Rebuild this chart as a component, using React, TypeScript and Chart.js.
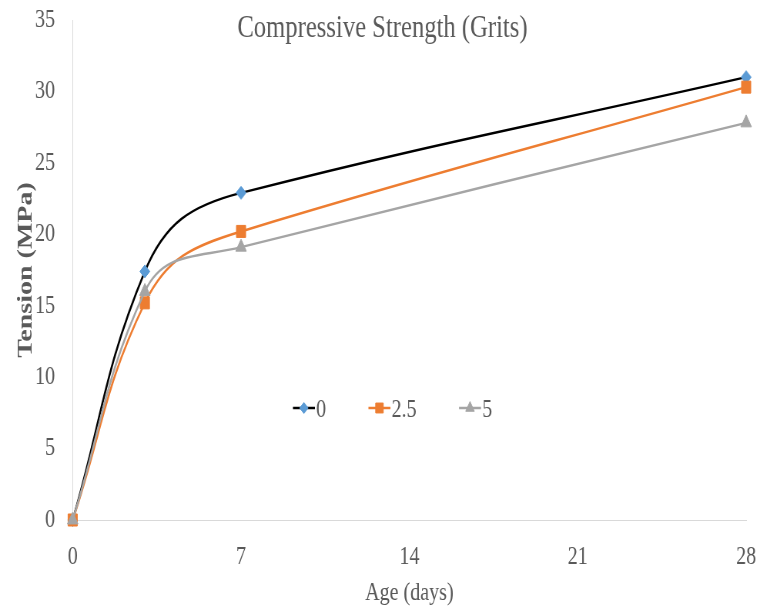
import React, { useEffect, useRef } from 'react';
import { Chart, registerables } from 'chart.js';
import { drawPoint } from 'chart.js/helpers';

Chart.register(...registerables);

// ---- data ----
const DAYS = [0, 3, 7, 28];
const SERIES_0 = [0, 17.4, 22.9, 31.0];
const SERIES_25 = [0, 15.2, 20.2, 30.3];
const SERIES_5 = [0, 16.0, 19.1, 27.8];
const SERIES_NAMES = ['0', '2.5', '5'];
const X_TICKS = [0, 7, 14, 21, 28];
const Y_TICKS = [0, 5, 10, 15, 20, 25, 30, 35];
const TITLE = 'Compressive Strength (Grits)';
const X_TITLE = 'Age (days)';
const Y_TITLE = 'Tension (MPa)';

// ---- styles ----
const FONT = '"Liberation Serif", "Times New Roman", serif';
const TEXT = '#595959';
const AXIS = '#d9d9d9';
const SX = 0.77; // horizontal squeeze of the reference picture
const W = 760;
const H = 609;
const CW = Math.round(W / SX);
const SMOOTH_K = 0.42;

const STYLES = [
  { line: '#000000', marker: '#5B9BD5', pointStyle: 'rectRot', radius: 6.5, legendRadius: 5.5 },
  { line: '#ED7D31', marker: '#ED7D31', pointStyle: 'rect', radius: 8.5, legendRadius: 7 },
  { line: '#A5A5A5', marker: '#A5A5A5', pointStyle: 'triangle', radius: 8, legendRadius: 6.5 },
];

// Spreadsheet-style smoothing: tangent weighted by neighbouring chord lengths,
// control arms proportional to the segment length (computed in displayed space)
const smoothPlugin = {
  id: 'sheetSmooth',
  beforeDatasetDraw(chart: any, args: any) {
    const meta = args.meta;
    const pts = meta.data;
    const n = pts.length;
    if (n < 2) return;
    const P = pts.map((p: any) => ({ x: p.x * SX, y: p.y }));
    const d: number[] = [];
    for (let i = 0; i < n - 1; i++) d.push(Math.hypot(P[i + 1].x - P[i].x, P[i + 1].y - P[i].y));
    for (let i = 0; i < n; i++) {
      let tx: number;
      let ty: number;
      if (i === 0) {
        tx = P[1].x - P[0].x;
        ty = P[1].y - P[0].y;
      } else if (i === n - 1) {
        tx = P[i].x - P[i - 1].x;
        ty = P[i].y - P[i - 1].y;
      } else {
        tx = d[i - 1] * (P[i].x - P[i - 1].x) + d[i] * (P[i + 1].x - P[i].x);
        ty = d[i - 1] * (P[i].y - P[i - 1].y) + d[i] * (P[i + 1].y - P[i].y);
      }
      const len = Math.hypot(tx, ty) || 1;
      tx /= len;
      ty /= len;
      const inArm = i > 0 ? SMOOTH_K * d[i - 1] : 0;
      const outArm = i < n - 1 ? SMOOTH_K * d[i] : 0;
      const p = pts[i];
      p.cp1x = (P[i].x - tx * inArm) / SX;
      p.cp1y = P[i].y - ty * inArm;
      p.cp2x = (P[i].x + tx * outArm) / SX;
      p.cp2y = P[i].y + ty * outArm;
    }
    if (meta.dataset) {
      meta.dataset._pointsUpdated = true;
      meta.dataset._path = undefined;
    }
  },
};

const overlayPlugin = {
  id: 'overlayText',
  afterDraw(chart: any) {
    const { ctx, chartArea } = chart;
    ctx.save();
    // title
    ctx.font = `32px ${FONT}`;
    ctx.fillStyle = TEXT;
    ctx.textAlign = 'center';
    ctx.textBaseline = 'alphabetic';
    ctx.fillText(TITLE, (chartArea.left + chartArea.right) / 2 - 35, 37);

    // legend
    ctx.font = `26px ${FONT}`;
    let x = chartArea.left + 286;
    const yMid = 408;
    const lineLen = 28.6;
    SERIES_NAMES.forEach((name, i) => {
      const st = STYLES[i];
      ctx.strokeStyle = st.line;
      ctx.lineWidth = 2.5;
      ctx.beginPath();
      ctx.moveTo(x, yMid);
      ctx.lineTo(x + lineLen, yMid);
      ctx.stroke();
      ctx.fillStyle = st.marker;
      ctx.strokeStyle = st.marker;
      ctx.lineWidth = 1;
      drawPoint(ctx, { pointStyle: st.pointStyle, radius: st.legendRadius, rotation: 0, borderWidth: 1 }, x + lineLen / 2, yMid);
      ctx.fillStyle = TEXT;
      ctx.textAlign = 'left';
      ctx.fillText(name, x + lineLen + 1.5, 416.5);
      x += lineLen + 1.5 + ctx.measureText(name).width + 55;
    });
    ctx.restore();
  },
};

export default function App() {
  const ref = useRef<HTMLCanvasElement | null>(null);

  useEffect(() => {
    if (!ref.current) return;
    const seriesValues = [SERIES_0, SERIES_25, SERIES_5];
    const datasets = seriesValues.map((vals, i) => ({
      label: SERIES_NAMES[i],
      data: DAYS.map((d, j) => ({ x: d, y: vals[j] })),
      borderColor: STYLES[i].line,
      borderWidth: 2.5,
      backgroundColor: STYLES[i].marker,
      pointBackgroundColor: STYLES[i].marker,
      pointBorderColor: STYLES[i].marker,
      pointBorderWidth: 1,
      pointStyle: STYLES[i].pointStyle,
      pointRadius: STYLES[i].radius,
      pointHoverRadius: STYLES[i].radius,
      tension: 0.4,
      fill: false,
      clip: false,
      order: 2 - i,
    }));

    const chart = new Chart(ref.current, {
      type: 'line',
      data: { datasets },
      plugins: [smoothPlugin, overlayPlugin],
      options: {
        animation: false,
        responsive: false,
        devicePixelRatio: 1,
        layout: { autoPadding: false, padding: { left: 15, right: 18, top: 20, bottom: 0 } },
        plugins: {
          legend: { display: false },
          title: { display: false },
          tooltip: { enabled: false },
        },
        scales: {
          x: {
            type: 'linear',
            min: 0,
            max: 28,
            afterBuildTicks: (s: any) => {
              s.ticks = X_TICKS.map((v) => ({ value: v }));
            },
            afterFit: (s: any) => {
              s.height = 89;
              s.paddingLeft = 0;
              s.paddingRight = 0;
            },
            grid: { display: false, drawTicks: false },
            border: { display: true, color: AXIS, width: 1 },
            ticks: {
              color: TEXT,
              font: { family: FONT, size: 26 },
              padding: 22,
              maxRotation: 0,
              autoSkip: false,
            },
            title: {
              display: true,
              text: X_TITLE,
              color: TEXT,
              font: { family: FONT, size: 26 },
              padding: { top: 0, bottom: 0 },
            },
          },
          y: {
            type: 'linear',
            min: 0,
            max: 35,
            afterBuildTicks: (s: any) => {
              s.ticks = Y_TICKS.map((v) => ({ value: v }));
            },
            afterFit: (s: any) => {
              s.width = 79.4;
              s.paddingTop = 0;
              s.paddingBottom = 0;
            },
            grid: { display: false, drawTicks: false },
            border: { display: true, color: AXIS, width: 1 },
            ticks: {
              color: TEXT,
              font: { family: FONT, size: 26 },
              padding: 23,
              autoSkip: false,
            },
            title: {
              display: true,
              text: Y_TITLE,
              color: TEXT,
              font: { family: FONT, size: 28, weight: 'bold' },
              padding: { top: 2, bottom: 0 },
            },
          },
        },
      },
    } as any);
    return () => chart.destroy();
  }, []);

  return (
    <div style={{ position: 'absolute', left: 0, top: 0, width: W, height: H, background: '#fff' }}>
      <canvas
        ref={ref}
        width={CW}
        height={H}
        style={{ width: `${W}px`, height: `${H}px`, display: 'block' }}
      />
    </div>
  );
}
